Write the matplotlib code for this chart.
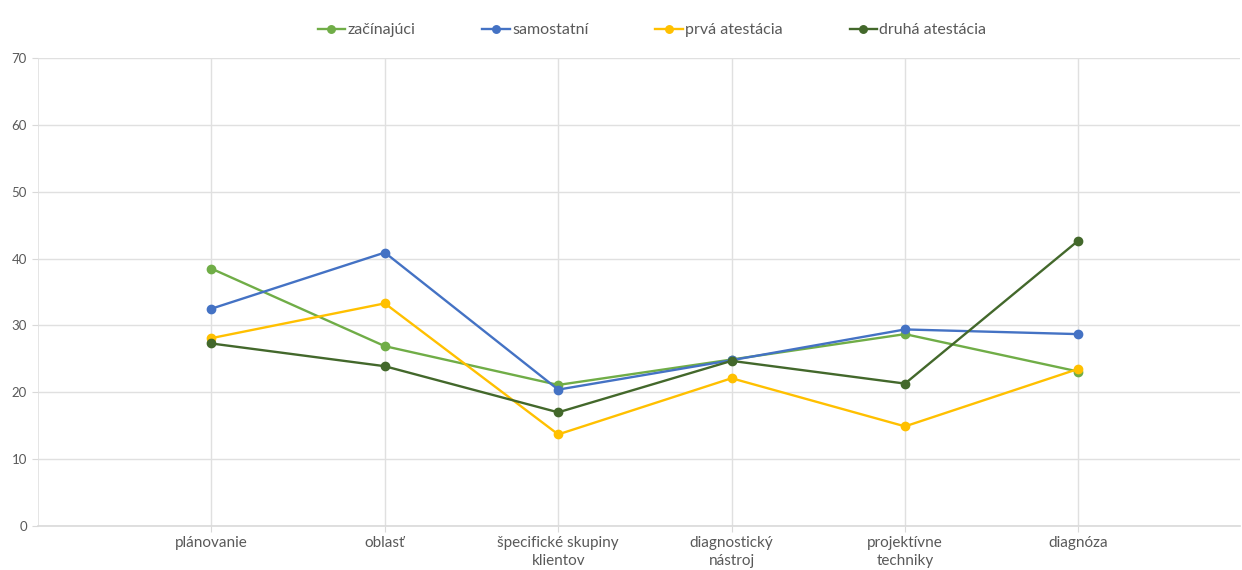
import numpy as np
import matplotlib.pyplot as plt

plt.rcParams['font.family'] = ['Lato', 'DejaVu Sans']

# categories and series values
categories = ['plánovanie', 'oblasť', 'špecifické skupiny\nklientov',
              'diagnostický\nnástroj', 'projektívne\ntechniky', 'diagnóza']
zacinajuci = [38.5, 26.9, 21.1, 24.9, 28.7, 23.1]
samostatni = [32.5, 40.9, 20.4, 24.8, 29.4, 28.7]
prva_atest = [28.1, 33.3, 13.7, 22.1, 14.9, 23.5]
druha_atest = [27.3, 23.9, 17.0, 24.7, 21.3, 42.7]

series = [('začínajúci', zacinajuci, '#70ad47'),
          ('samostatní', samostatni, '#4472c4'),
          ('prvá atestácia', prva_atest, '#ffc000'),
          ('druhá atestácia', druha_atest, '#43682b')]

fig = plt.figure(figsize=(12.42, 5.70), dpi=100)
ax = fig.add_axes([38/1242, 44/570, 1202/1242, 468/570])

x = np.arange(1, len(categories) + 1)
for name, vals, col in series:
    ax.plot(x, vals, color=col, linewidth=1.7, marker='o', markersize=6,
            label=name, zorder=3)

ax.set_ylim(0, 70)
ax.set_yticks(range(0, 71, 10))
ax.set_xlim(0, 1202/173.4)
ax.set_xticks(x)
ax.set_xticklabels(categories, fontsize=11, color='#595959', linespacing=1.35)
ax.tick_params(axis='y', labelsize=9.5, labelcolor='#595959', length=4,
               color='#d9d9d9', pad=4)
ax.tick_params(axis='x', length=4, color='#d9d9d9', pad=3)

ax.grid(True, color='#e0e0e0', linewidth=1)
ax.axvline(0, color='#e0e0e0', linewidth=1.2)
for s in ['top', 'right', 'left']:
    ax.spines[s].set_visible(False)
ax.spines['bottom'].set_color('#d9d9d9')
ax.spines['bottom'].set_linewidth(1.2)
ax.set_axisbelow(True)

fig.legend(loc='upper center', bbox_to_anchor=(0.525, 0.985), ncol=4,
           frameon=False, fontsize=11.5, labelcolor='#595959',
           handlelength=1.7, handletextpad=0.15, columnspacing=4.2,
           markerscale=0.9)

fig.savefig('out.png', dpi=100)
